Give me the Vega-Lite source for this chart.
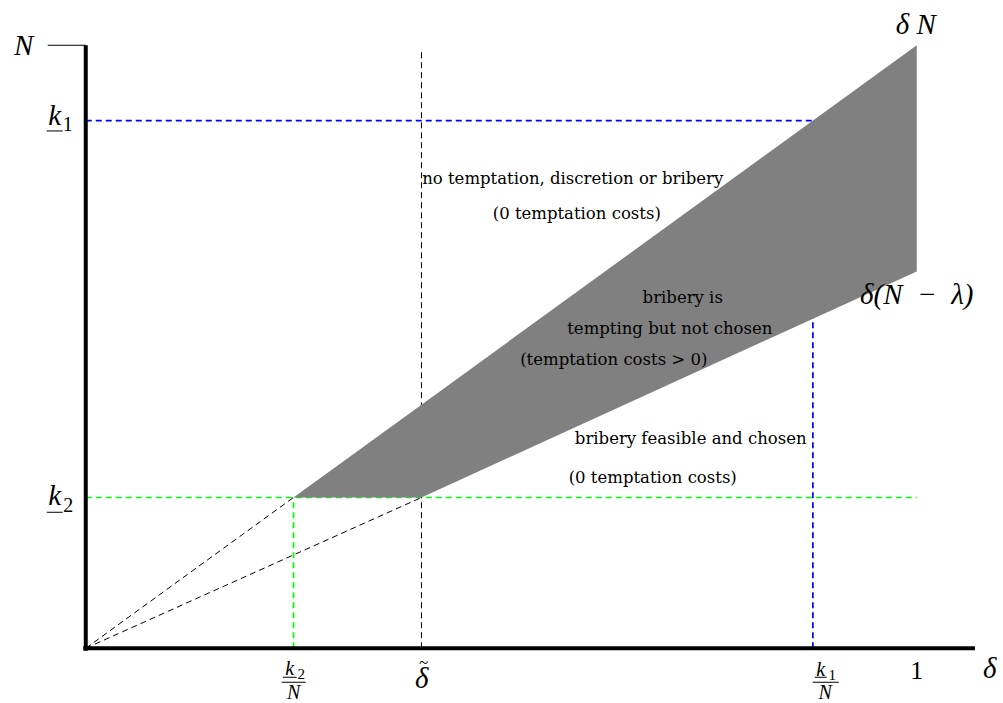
{
  "$schema": "https://vega.github.io/schema/vega-lite/v6.json",
  "width": 1003,
  "height": 703,
  "padding": 0,
  "autosize": {"type": "none"},
  "background": "white",
  "config": {"view": {"stroke": null}},
  "datasets": {
    "dashed": [
      {"x": 0, "y": 0.875, "x2": 0.875, "y2": 0.875, "c": "k1"},
      {"x": 0.875, "y": 0, "x2": 0.875, "y2": 0.875, "c": "k1"},
      {"x": 0, "y": 0.25, "x2": 1, "y2": 0.25, "c": "k2"},
      {"x": 0.25, "y": 0, "x2": 0.25, "y2": 0.25, "c": "k2"},
      {"x": 0.404, "y": 0, "x2": 0.404, "y2": 0.992, "c": "delta"},
      {"x": 0, "y": 0, "x2": 0.25, "y2": 0.25, "c": "delta"},
      {"x": 0, "y": 0, "x2": 0.404, "y2": 0.25, "c": "delta"}
    ],
    "region": [
      {"x": 0.25, "y": 0.25, "y2": 0.25},
      {"x": 0.404, "y": 0.404, "y2": 0.25},
      {"x": 1, "y": 1, "y2": 0.625}
    ],
    "axes": [
      {"x": 0, "y": -0.004, "x2": 0, "y2": 1},
      {"x": -0.003, "y": 0, "x2": 1.07, "y2": 0}
    ],
    "thin": [
      {"x": -0.0457, "y": 1, "x2": 0, "y2": 1},
      {"x": -0.0469, "y": 0.8579, "x2": -0.0277, "y2": 0.8579},
      {"x": -0.0469, "y": 0.2255, "x2": -0.0277, "y2": 0.2255},
      {"x": 0.2371, "y": -0.0481, "x2": 0.2539, "y2": -0.0481},
      {"x": 0.2359, "y": -0.0564, "x2": 0.2647, "y2": -0.0564},
      {"x": 0.8773, "y": -0.0481, "x2": 0.8917, "y2": -0.0481},
      {"x": 0.8749, "y": -0.0564, "x2": 0.9061, "y2": -0.0564}
    ],
    "labels": [
      {"t": "N", "x": -0.0746, "y": 0.9992, "kind": "math"},
      {"t": "k", "x": -0.0373, "y": 0.8823, "kind": "math"},
      {"t": "k", "x": -0.0373, "y": 0.2521, "kind": "math"},
      {"t": "δ N", "x": 0.9988, "y": 1.0332, "kind": "math"},
      {"t": "δ(N\u2002−\u2002λ)", "x": 1.0, "y": 0.5854, "kind": "math"},
      {"t": "δ", "x": 0.4043, "y": -0.0514, "kind": "math"},
      {"t": "~", "x": 0.4067, "y": -0.0245, "kind": "tilde"},
      {"t": "δ", "x": 1.0878, "y": -0.0348, "kind": "math"},
      {"t": "1", "x": 1.0, "y": -0.0381, "kind": "digit"},
      {"t": "1", "x": -0.0217, "y": 0.8673, "kind": "sub"},
      {"t": "2", "x": -0.0211, "y": 0.2363, "kind": "sub"},
      {"t": "k", "x": 0.2455, "y": -0.034, "kind": "frac"},
      {"t": "N", "x": 0.2503, "y": -0.0738, "kind": "frac"},
      {"t": "k", "x": 0.8845, "y": -0.0357, "kind": "frac"},
      {"t": "N", "x": 0.8899, "y": -0.0738, "kind": "frac"},
      {"t": "2", "x": 0.2593, "y": -0.0431, "kind": "fracsub"},
      {"t": "1", "x": 0.8983, "y": -0.0439, "kind": "fracsub"},
      {"t": "no temptation, discretion or bribery", "x": 0.586, "y": 0.7778, "kind": "note"},
      {"t": "(0 temptation costs)", "x": 0.5909, "y": 0.7197, "kind": "note"},
      {"t": "bribery is", "x": 0.7184, "y": 0.5804, "kind": "note"},
      {"t": "tempting but not chosen", "x": 0.7028, "y": 0.529, "kind": "note"},
      {"t": "(temptation costs > 0)", "x": 0.6354, "y": 0.4776, "kind": "note"},
      {"t": "bribery feasible and chosen", "x": 0.728, "y": 0.3466, "kind": "note"},
      {"t": "(0 temptation costs)", "x": 0.6823, "y": 0.2819, "kind": "note"}
    ]
  },
  "encoding": {
    "x": {"field": "x", "type": "quantitative", "axis": null,
          "scale": {"domain": [-0.10319, 1.10379], "nice": false, "zero": false}},
    "y": {"field": "y", "type": "quantitative", "axis": null,
          "scale": {"domain": [-0.090795, 1.075045], "nice": false, "zero": false}}
  },
  "layer": [
    {
      "data": {"name": "dashed"},
      "transform": [{"filter": "datum.c !== 'delta'"}],
      "mark": {"type": "rule", "strokeWidth": 1.7, "strokeDash": [6, 4]},
      "encoding": {
        "x2": {"field": "x2"},
        "y2": {"field": "y2"},
        "color": {"field": "c", "type": "nominal", "legend": null,
                  "scale": {"domain": ["k1", "k2", "delta"], "range": ["#0000ff", "#00ff00", "#000000"]}}
      }
    },
    {
      "data": {"name": "dashed"},
      "transform": [{"filter": "datum.c === 'delta'"}],
      "mark": {"type": "rule", "strokeWidth": 1, "strokeDash": [6, 4]},
      "encoding": {
        "x2": {"field": "x2"},
        "y2": {"field": "y2"},
        "color": {"field": "c", "type": "nominal", "legend": null,
                  "scale": {"domain": ["k1", "k2", "delta"], "range": ["#0000ff", "#00ff00", "#000000"]}}
      }
    },
    {
      "data": {"name": "region"},
      "mark": {"type": "area", "color": "#808080", "opacity": 1},
      "encoding": {"y2": {"field": "y2"}}
    },
    {
      "data": {"name": "axes"},
      "mark": {"type": "rule", "strokeWidth": 4, "color": "black"},
      "encoding": {"x2": {"field": "x2"}, "y2": {"field": "y2"}}
    },
    {
      "data": {"name": "thin"},
      "mark": {"type": "rule", "strokeWidth": 1, "color": "black"},
      "encoding": {"x2": {"field": "x2"}, "y2": {"field": "y2"}}
    },
    {
      "data": {"name": "labels"},
      "transform": [{"filter": "datum.kind === 'math'"}],
      "mark": {"type": "text", "font": "Liberation Serif", "fontStyle": "italic", "fontSize": 29, "baseline": "middle", "align": "center", "color": "black"},
      "encoding": {"text": {"field": "t"}}
    },
    {
      "data": {"name": "labels"},
      "transform": [{"filter": "datum.kind === 'tilde'"}],
      "mark": {"type": "text", "font": "Liberation Serif", "fontSize": 17, "baseline": "middle", "align": "center", "color": "black"},
      "encoding": {"text": {"field": "t"}}
    },
    {
      "data": {"name": "labels"},
      "transform": [{"filter": "datum.kind === 'digit'"}],
      "mark": {"type": "text", "font": "Liberation Serif", "fontSize": 26, "baseline": "middle", "align": "center", "color": "black"},
      "encoding": {"text": {"field": "t"}}
    },
    {
      "data": {"name": "labels"},
      "transform": [{"filter": "datum.kind === 'sub'"}],
      "mark": {"type": "text", "font": "Liberation Serif", "fontSize": 20, "baseline": "middle", "align": "center", "color": "black"},
      "encoding": {"text": {"field": "t"}}
    },
    {
      "data": {"name": "labels"},
      "transform": [{"filter": "datum.kind === 'frac'"}],
      "mark": {"type": "text", "font": "Liberation Serif", "fontStyle": "italic", "fontSize": 20, "baseline": "middle", "align": "center", "color": "black"},
      "encoding": {"text": {"field": "t"}}
    },
    {
      "data": {"name": "labels"},
      "transform": [{"filter": "datum.kind === 'fracsub'"}],
      "mark": {"type": "text", "font": "Liberation Serif", "fontSize": 15, "baseline": "middle", "align": "center", "color": "black"},
      "encoding": {"text": {"field": "t"}}
    },
    {
      "data": {"name": "labels"},
      "transform": [{"filter": "datum.kind === 'note'"}],
      "mark": {"type": "text", "font": "DejaVu Serif", "fontSize": 16.5, "baseline": "middle", "align": "center", "color": "black"},
      "encoding": {"text": {"field": "t"}}
    }
  ]
}
